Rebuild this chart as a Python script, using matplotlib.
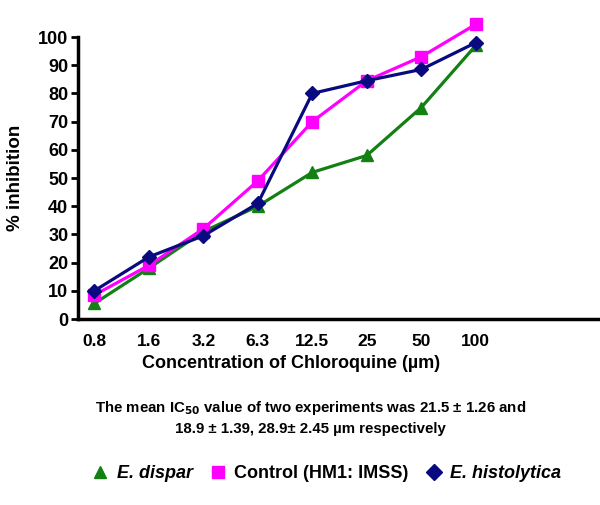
import matplotlib.pyplot as plt

plt.rcParams['font.family'] = ['Liberation Sans', 'DejaVu Sans']
plt.rcParams['font.weight'] = 'bold'

conc = ['0.8', '1.6', '3.2', '6.3', '12.5', '25', '50', '100']
dispar = [5.5, 18, 31, 40, 52, 58, 75, 97]
control = [8.5, 19, 32, 49, 70, 84.5, 93, 104.5]
histolytica = [10, 22, 29.5, 41, 80, 84.5, 88.5, 98]

fig = plt.figure(figsize=(6, 5.05), dpi=100)
ax = fig.add_axes([0.13, 0.3683, 0.87, 0.5584])
x = list(range(len(conc)))

# E. dispar
ax.plot(x, dispar, color='#128012', linewidth=2.3, marker='^', markersize=9,
        clip_on=False, label='E. dispar', zorder=3)
# control
ax.plot(x, control, color='#ff00ff', linewidth=2.3, marker='s', markersize=8.5,
        clip_on=False, label='Control (HM1: IMSS)', zorder=4)
# E. histolytica
ax.plot(x, histolytica, color='#0a0a80', linewidth=2.3, marker='D', markersize=7.5,
        clip_on=False, label='E. histolytica', zorder=5)

ax.set_xlim(-0.3, 9.28)
ax.set_ylim(0, 100)
ax.set_yticks(range(0, 101, 10))
ax.set_xticks(x)
ax.set_xticklabels(conc)
ax.tick_params(axis='y', length=5, width=2, labelsize=13, pad=2)
ax.tick_params(axis='x', length=0, labelsize=12.5, pad=11)
for t in ax.get_xticklabels() + ax.get_yticklabels():
    t.set_fontweight('bold')
for s in ['top', 'right']:
    ax.spines[s].set_visible(False)
ax.spines['left'].set_linewidth(2.5)
ax.spines['bottom'].set_linewidth(2.5)

ax.set_ylabel('% inhibition', fontsize=13.5, fontweight='bold', labelpad=10)
fig.text(0.485, 1 - 364 / 505, 'Concentration of Chloroquine (µm)', ha='center',
         va='center', fontsize=13, fontweight='bold')
fig.text(0.517, 1 - 408 / 505,
         'The mean IC$_{\\mathbf{50}}$ value of two experiments was 21.5 ± 1.26 and',
         ha='center', va='center', fontsize=10.8, fontweight='bold')
fig.text(0.517, 1 - 429 / 505, '18.9 ± 1.39, 28.9± 2.45 µm respectively',
         ha='center', va='center', fontsize=10.8, fontweight='bold')

handles, labels = ax.get_legend_handles_labels()
leg_handles = [plt.Line2D([], [], linestyle='none', marker=h.get_marker(),
                          color=h.get_color(), markersize=8) for h in handles]
leg = fig.legend(leg_handles, labels, loc='center', ncol=3,
                 bbox_to_anchor=(0.545, 1 - 474 / 505), frameon=False,
                 fontsize=13, handlelength=0.8, handletextpad=0.5, columnspacing=1.0)
for i, t in enumerate(leg.get_texts()):
    t.set_fontweight('bold')
    if i != 1:
        t.set_fontstyle('italic')

fig.savefig('out.png', dpi=100)
